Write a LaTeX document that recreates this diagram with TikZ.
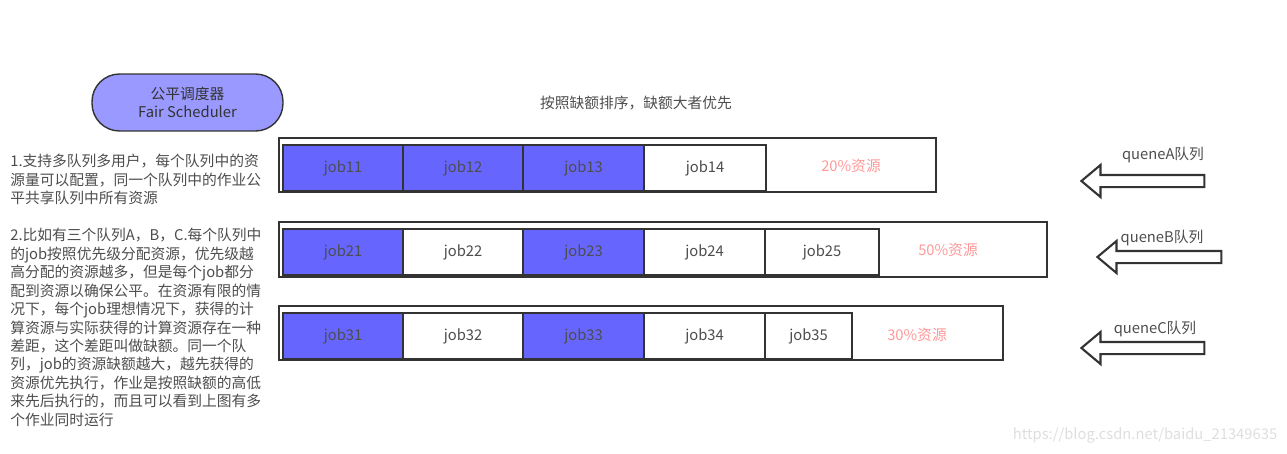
\documentclass[tikz,border=0pt]{standalone}
\usepackage{fontspec}
\setmainfont{Noto Sans CJK SC}
\usetikzlibrary{shapes.arrows}
\definecolor{jobblue}{HTML}{6666FF}
\definecolor{fairpurple}{HTML}{9999FF}
\definecolor{quotared}{HTML}{FF9999}
\definecolor{txtgray}{HTML}{4D4D4D}
\definecolor{linegray}{HTML}{333333}
\newcommand{\smallcjk}{\fontsize{8.4pt}{10.5pt}\selectfont}
\tikzset{
  queuebox/.style={draw=linegray, line width=1pt, fill=white, minimum height=1.08cm, inner sep=0pt},
  jobbox/.style={draw=linegray, line width=0.8pt, minimum width=2.4cm, minimum height=0.92cm, inner sep=0pt, text=txtgray, font=\smallcjk},
  quota/.style={text=quotared, font=\smallcjk},
  queuearrow/.style={single arrow, shape border rotate=180, draw=linegray, line width=1.2pt, fill=white,
    minimum width=0.6cm, inner sep=0.1cm, single arrow head extend=0.2cm, single arrow tip angle=80},
  note/.style={text=txtgray, font=\smallcjk, align=left, anchor=north west, inner sep=0pt}
}

\begin{document}
\begin{tikzpicture}[x=0.02cm, y=-0.02cm]
\useasboundingbox (0,0) rectangle (1287,453);
\node[rectangle] at (187.5,102.5) [draw=linegray, line width=0.8pt, fill=fairpurple, rounded corners=0.55cm, minimum width=3.82cm, minimum height=1.14cm, align=center, text=linegray, font=\smallcjk] (FS) {公平调度器\\Fair Scheduler};
\node at (636,103) [text=txtgray, font=\smallcjk] (sort) {按照缺额排序，缺额大者优先};
\node[note] at (10,154) (note1) {1.支持多队列多用户，每个队列中的资\\源量可以配置，同一个队列中的作业公\\平共享队列中所有资源};
\node[note] at (10,228) (note2) {2.比如有三个队列A，B，C.每个队列中\\的job按照优先级分配资源，优先级越\\高分配的资源越多，但是每个job都分\\配到资源以确保公平。在资源有限的情\\况下，每个job理想情况下，获得的计\\算资源与实际获得的计算资源存在一种\\差距，这个差距叫做缺额。同一个队\\列，job的资源缺额越大，越先获得的\\资源优先执行，作业是按照缺额的高低\\来先后执行的，而且可以看到上图有多\\个作业同时运行};
\node[rectangle] at (607.5,165) [queuebox, minimum width=13.14cm] (QA) {};
\node[rectangle] at (343,168) [jobbox, fill=jobblue] (J11) {job11};
\node[rectangle] at (463,168) [jobbox, fill=jobblue] (J12) {job12};
\node[rectangle] at (583.5,168) [jobbox, fill=jobblue] (J13) {job13};
\node[rectangle] at (705,168) [jobbox, fill=white, minimum width=2.44cm] (J14) {job14};
\node at (851,166) [quota] (PA) {20\%资源};
\node[rectangle] at (663,249.5) [queuebox, minimum width=15.36cm, minimum height=1.1cm] (QB) {};
\node[rectangle] at (343,252) [jobbox, fill=jobblue] (J21) {job21};
\node[rectangle] at (463,252) [jobbox, fill=white] (J22) {job22};
\node[rectangle] at (583.5,252) [jobbox, fill=jobblue] (J23) {job23};
\node[rectangle] at (704.5,252) [jobbox, fill=white] (J24) {job24};
\node[rectangle] at (822,252) [jobbox, fill=white, minimum width=2.28cm] (J25) {job25};
\node at (948,250) [quota] (PB) {50\%资源};
\node[rectangle] at (641,333) [queuebox, minimum width=14.48cm] (QC) {};
\node[rectangle] at (343,336) [jobbox, fill=jobblue] (J31) {job31};
\node[rectangle] at (463,336) [jobbox, fill=white] (J32) {job32};
\node[rectangle] at (583.5,336) [jobbox, fill=jobblue] (J33) {job33};
\node[rectangle] at (704.5,336) [jobbox, fill=white] (J34) {job34};
\node[rectangle] at (808.5,336) [jobbox, fill=white, minimum width=1.74cm] (J35) {job35};
\node at (917,335) [quota] (PC) {30\%资源};
\node[queuearrow, minimum height=2.46cm] at (1146.5,181) (arrA) {};
\node at (1163,155) [text=txtgray, font=\smallcjk] (labA) {queneA队列};
\node[queuearrow, minimum height=2.48cm] at (1163,257) (arrB) {};
\node at (1162,238) [text=txtgray, font=\smallcjk] (labB) {queneB队列};
\node[queuearrow, minimum height=2.46cm] at (1146.5,348) (arrC) {};
\node at (1155,329) [text=txtgray, font=\smallcjk] (labC) {queneC队列};
\node at (1145,435) [text=black!13, font=\smallcjk] (mark) {https://blog.csdn.net/baidu\_21349635};
\end{tikzpicture}
\end{document}
